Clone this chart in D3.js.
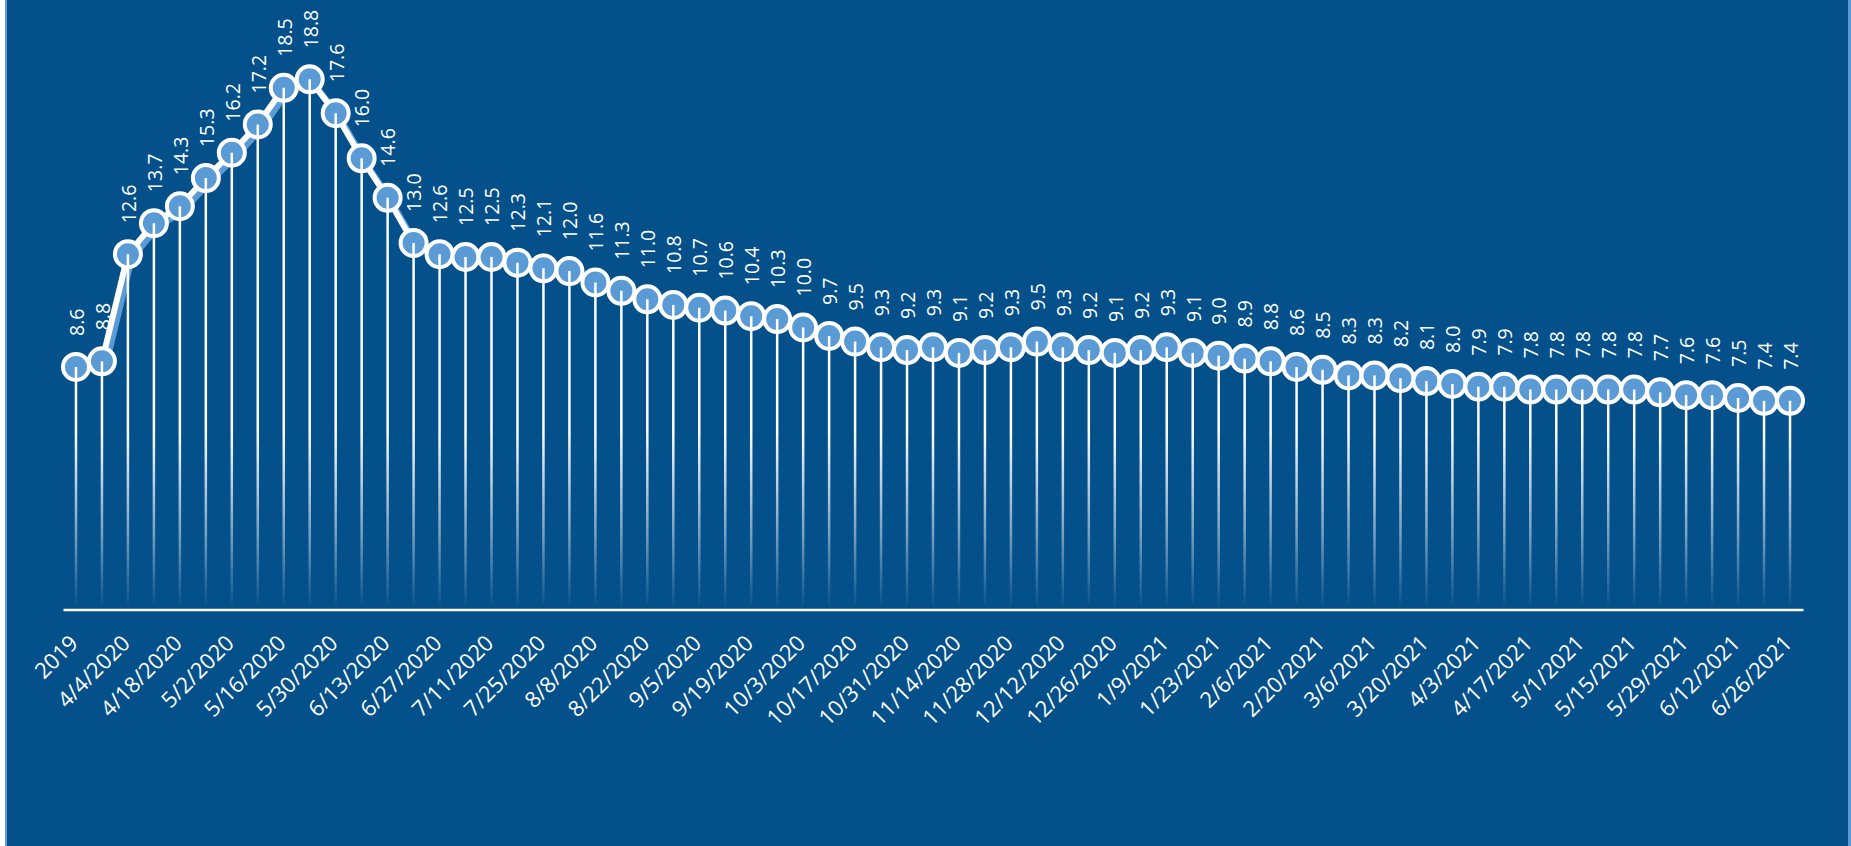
<!DOCTYPE html>
<html>
<head>
<meta charset="utf-8">
<script src="https://cdn.jsdelivr.net/npm/d3@7"></script>
<style>
  html, body { margin: 0; padding: 0; background: #ffffff; }
  svg { display: block; }
</style>
</head>
<body>
<div id="chart-container"></div>
<script>
const categories = [
  "2019", "3/28/2020", "4/4/2020", "4/11/2020", "4/18/2020", "4/25/2020",
  "5/2/2020", "5/9/2020", "5/16/2020", "5/23/2020", "5/30/2020", "6/6/2020",
  "6/13/2020", "6/20/2020", "6/27/2020", "7/4/2020", "7/11/2020", "7/18/2020",
  "7/25/2020", "8/1/2020", "8/8/2020", "8/15/2020", "8/22/2020", "8/29/2020",
  "9/5/2020", "9/12/2020", "9/19/2020", "9/26/2020", "10/3/2020", "10/10/2020",
  "10/17/2020", "10/24/2020", "10/31/2020", "11/7/2020", "11/14/2020", "11/21/2020",
  "11/28/2020", "12/5/2020", "12/12/2020", "12/19/2020", "12/26/2020", "1/2/2021",
  "1/9/2021", "1/16/2021", "1/23/2021", "1/30/2021", "2/6/2021", "2/13/2021",
  "2/20/2021", "2/27/2021", "3/6/2021", "3/13/2021", "3/20/2021", "3/27/2021",
  "4/3/2021", "4/10/2021", "4/17/2021", "4/24/2021", "5/1/2021", "5/8/2021",
  "5/15/2021", "5/22/2021", "5/29/2021", "6/5/2021", "6/12/2021", "6/19/2021",
  "6/26/2021"
];

const values = [
  8.6, 8.8, 12.6, 13.7, 14.3, 15.3, 16.2, 17.2, 18.5, 18.8,
  17.6, 16.0, 14.6, 13.0, 12.6, 12.5, 12.5, 12.3, 12.1, 12.0,
  11.6, 11.3, 11.0, 10.8, 10.7, 10.6, 10.4, 10.3, 10.0, 9.7,
  9.5, 9.3, 9.2, 9.3, 9.1, 9.2, 9.3, 9.5, 9.3, 9.2,
  9.1, 9.2, 9.3, 9.1, 9.0, 8.9, 8.8, 8.6, 8.5, 8.3,
  8.3, 8.2, 8.1, 8.0, 7.9, 7.9, 7.8, 7.8, 7.8, 7.8,
  7.8, 7.7, 7.6, 7.6, 7.5, 7.4, 7.4
];

// every other category gets a label on the axis
const tickLabels = categories.filter((d, i) => i % 2 === 0);

const data = categories.map((c, i) => ({ cat: c, val: values[i] }));

const W = 1851, H = 846;
const bg = "#03508a";
const lightBlue = "#5b9bd5";
const font = "'Open Sans', 'DejaVu Sans', sans-serif";

const svg = d3.select("#chart-container")
  .append("svg")
    .attr("width", W)
    .attr("height", H);

// panel with thin light border on the sides
svg.append("rect")
  .attr("x", 5).attr("y", 0)
  .attr("width", W - 5).attr("height", H)
  .attr("fill", lightBlue);
svg.append("rect")
  .attr("x", 7).attr("y", 0)
  .attr("width", W - 10).attr("height", H)
  .attr("fill", bg);

const x = d3.scalePoint()
  .domain(categories)
  .range([63, 1803])
  .padding(0.5);

const y = d3.scaleLinear()
  .domain([0, 20])
  .range([609.5, 45.5]);

//fade for the drop lines
const defs = svg.append("defs");
const grad = defs.append("linearGradient")
  .attr("id", "drop-fade")
  .attr("gradientUnits", "userSpaceOnUse")
  .attr("x1", 0).attr("x2", 0)
  .attr("y1", 430).attr("y2", 606);
grad.append("stop").attr("offset", 0).attr("stop-color", "#ffffff").attr("stop-opacity", 1);
grad.append("stop").attr("offset", 0.6).attr("stop-color", "#ffffff").attr("stop-opacity", 0.45);
grad.append("stop").attr("offset", 1).attr("stop-color", "#ffffff").attr("stop-opacity", 0.02);

// axis
const axis = svg.append("g")
  .attr("transform", `translate(0,${y(0)})`)
  .call(d3.axisBottom(x).tickValues(tickLabels).tickSize(0).tickSizeOuter(0));

axis.select(".domain")
  .attr("stroke", "#ffffff")
  .attr("stroke-width", 2.5);

axis.selectAll(".tick text")
  .attr("x", 0).attr("y", 0).attr("dy", 0)
  .attr("transform", "translate(3,35) rotate(-45)")
  .attr("text-anchor", "end")
  .attr("fill", "#ffffff")
  .style("font-family", font)
  .style("font-size", "22px");

const line = d3.line()
  .x(d => x(d.cat))
  .y(d => y(d.val));

// soft blue shadow under the line
svg.append("path")
  .datum(data)
  .attr("fill", "none")
  .attr("stroke", lightBlue)
  .attr("stroke-width", 6)
  .attr("stroke-linejoin", "round")
  .attr("transform", "translate(4,4)")
  .attr("d", line);

svg.append("path")
  .datum(data)
  .attr("fill", "none")
  .attr("stroke", "#ffffff")
  .attr("stroke-width", 6)
  .attr("stroke-linejoin", "round")
  .attr("stroke-linecap", "round")
  .attr("d", line);

svg.append("g")
  .selectAll("circle")
  .data(data)
  .join("circle")
    .attr("cx", d => x(d.cat))
    .attr("cy", d => y(d.val))
    .attr("r", 13)
    .attr("fill", lightBlue)
    .attr("stroke", "#ffffff")
    .attr("stroke-width", 4);

// drop lines from the marker centre down to the axis
svg.append("g")
  .selectAll("line")
  .data(data)
  .join("line")
    .attr("x1", d => x(d.cat))
    .attr("x2", d => x(d.cat))
    .attr("y1", d => y(d.val))
    .attr("y2", y(0) - 4)
    .attr("stroke", "url(#drop-fade)")
    .attr("stroke-width", 2.5);

svg.append("g")
  .selectAll("text")
  .data(data)
  .join("text")
    .attr("transform", d => `translate(${x(d.cat) + 1},${y(d.val) - 31}) rotate(-90)`)
    .attr("dy", "0.35em")
    .attr("text-anchor", "start")
    .attr("fill", "#ffffff")
    .style("font-family", font)
    .style("font-size", "19.5px")
    .text(d => d.val.toFixed(1));
</script>
</body>
</html>
